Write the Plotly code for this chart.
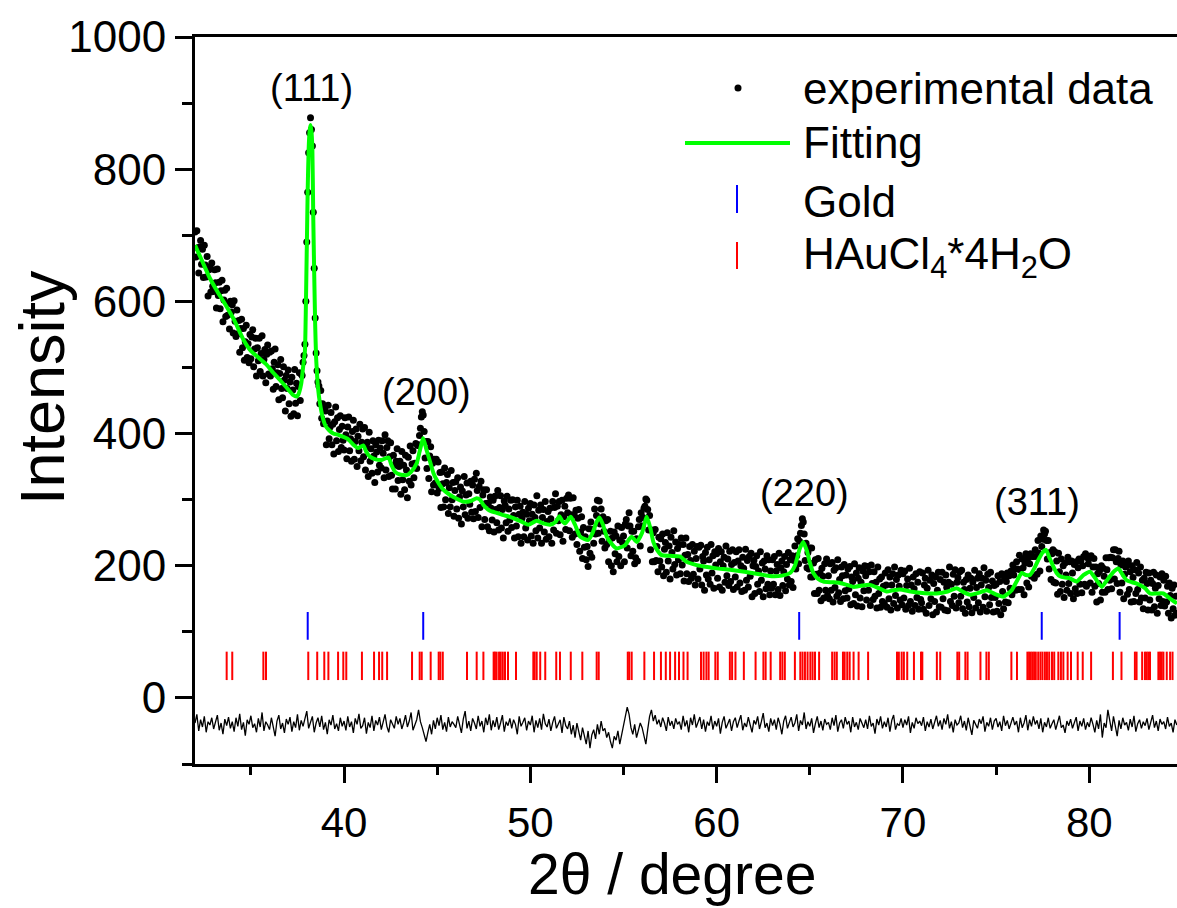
import numpy as np
import plotly.graph_objects as go

# ---------------- data ----------------
X_START = 32.0
X_STEP = 0.05
exp_intensity = [
    705,667,707,681,643,682,692,656,679,636,685,655,637,668,608,648,652,614,658,623,
    615,648,628,590,649,609,629,589,616,632,569,602,617,577,620,579,597,558,600,584,
    595,552,601,570,547,587,551,571,523,559,573,530,559,511,539,564,515,536,507,550,
    513,546,557,501,528,544,487,530,510,544,494,521,548,487,512,527,477,520,534,490,
    523,487,525,498,467,508,528,471,492,504,451,491,512,468,454,501,481,434,488,468,
    496,445,478,426,485,466,430,497,446,476,427,471,492,450,490,488,508,518,535,600,
    690,765,825,855,878,860,835,735,650,575,522,495,478,472,445,465,423,445,415,438,
    434,383,419,443,392,410,432,383,414,369,418,440,389,424,373,406,427,379,411,390,
    375,424,398,362,410,425,374,392,358,403,420,361,388,407,350,396,374,414,359,387,
    407,365,409,345,380,387,335,402,358,377,340,389,366,326,383,372,342,390,352,378,
    348,389,370,333,398,345,379,389,335,365,386,337,316,367,352,316,358,377,329,350,
    358,308,373,330,352,315,367,345,303,364,328,381,322,354,374,333,355,385,347,382,
    383,397,408,425,433,428,403,363,388,347,388,332,366,380,312,355,322,361,325,361,
    310,357,317,341,288,342,324,289,348,300,326,338,279,318,289,344,300,326,275,314,
    327,286,333,272,304,319,263,313,289,335,277,307,325,272,309,293,328,281,322,271,
    331,282,340,314,273,320,288,328,259,307,315,270,294,315,259,295,253,304,287,269,
    299,251,305,285,265,314,254,288,306,257,285,242,298,291,265,305,252,286,269,299,
    258,300,276,242,289,260,299,244,278,290,234,272,281,244,297,257,278,239,287,268,
    294,245,278,234,292,273,253,306,242,284,257,292,234,273,285,251,297,240,267,282,
    244,287,271,234,297,254,288,309,249,290,268,297,247,277,299,237,274,290,255,302,
    280,307,253,302,277,243,303,277,248,284,232,272,285,222,251,274,211,258,228,244,
    209,229,199,256,219,266,213,255,234,286,248,276,299,249,298,263,286,237,274,252,
    227,268,232,270,206,240,252,200,242,191,251,218,245,206,260,214,239,200,258,235,
    245,206,263,270,227,260,280,260,215,252,222,252,203,212,241,207,259,270,230,280,
    260,273,287,290,301,299,285,254,276,224,254,206,250,206,255,208,229,191,243,207,
    241,198,248,185,225,235,190,250,207,230,180,243,220,195,253,202,236,186,226,209,
    232,188,242,201,232,177,216,242,188,217,176,229,208,181,232,187,222,171,211,229,
    180,228,195,231,171,214,207,163,220,186,228,180,209,172,232,189,215,166,221,201,
    218,181,226,168,206,221,163,200,213,175,230,185,210,170,222,176,202,224,164,205,
    183,221,168,207,224,174,200,161,213,196,163,225,178,208,168,214,184,219,153,200,
    208,158,199,215,172,192,161,221,178,204,153,207,195,165,215,172,209,156,192,166,
    209,172,214,156,192,202,164,219,155,197,207,170,191,214,162,202,180,220,171,209,
    176,215,167,208,230,195,215,241,203,237,249,261,271,266,248,208,234,197,220,195,
    227,183,227,183,204,158,209,187,158,211,163,189,147,196,184,151,203,163,210,155,
    185,150,203,163,205,145,193,167,197,154,209,159,179,146,198,185,150,202,162,186,
    151,195,165,199,141,183,176,143,203,156,189,139,181,197,151,175,138,192,162,200,
    185,148,199,163,191,140,201,173,149,191,154,175,136,198,158,180,137,183,146,169,
    143,189,171,137,194,150,183,133,171,188,143,198,155,179,136,186,169,148,193,141,
    188,151,192,134,170,180,140,196,146,171,131,183,165,140,188,152,175,134,191,149,
    144,189,134,171,181,128,166,193,140,178,150,186,126,173,146,183,130,163,190,138,
    179,137,190,150,175,133,186,167,132,175,198,146,172,140,187,154,194,136,175,182,
    144,191,154,193,135,175,164,128,179,145,186,138,166,181,129,175,152,193,136,167,
    181,144,188,130,171,181,137,197,153,178,131,187,167,141,190,152,177,130,170,152,
    172,131,185,143,176,126,188,161,135,182,145,176,189,144,185,166,192,156,201,186,
    195,163,206,195,164,216,194,164,210,197,156,204,218,174,211,168,203,218,184,214,
    214,181,224,214,187,238,219,192,245,229,240,254,248,252,238,210,238,195,220,179,
    218,224,175,221,174,207,157,219,191,161,210,172,200,152,204,186,163,213,173,206,
    158,207,189,150,202,165,206,158,197,210,172,207,159,200,214,172,218,169,212,203,
    211,174,215,160,198,211,169,198,145,188,173,192,148,200,160,196,184,160,212,194,
    164,212,178,213,165,212,224,180,224,206,173,211,222,160,201,174,207,150,187,198,
    200,157,207,164,191,145,200,182,146,194,158,205,164,189,145,198,151,178,135,181,
    151,190,173,133,189,148,178,133,173,190,138,166,186,128,170,150,183,140,188,146,
    178,139,184,145,169,128,174,155,121,166,135,171,125,154,128,
]

fit_theta = [
    32.0, 32.4, 32.8, 33.2, 33.7, 34.1, 34.6, 35.0, 35.4, 35.85, 36.2, 36.56, 36.9, 37.28,
    37.45, 37.55, 37.7, 37.8, 37.9, 37.95, 38.0, 38.05, 38.1, 38.15, 38.2, 38.25, 38.3,
    38.35, 38.4, 38.45, 38.5, 38.55, 38.6, 38.7, 38.85, 39.0, 39.2, 39.42, 39.7, 39.96,
    40.2, 40.5, 40.75, 41.03, 41.2, 41.39, 41.7, 42.02, 42.38, 42.55, 42.74, 43.0, 43.36,
    43.6, 43.9, 44.05, 44.25, 44.4, 44.61, 44.8, 44.97, 45.3, 45.69, 46.0, 46.4, 46.8,
    47.12, 47.3, 47.48, 47.83, 48.19, 48.5, 48.91, 49.09, 49.5, 49.89, 50.34, 50.7, 51.06,
    51.35, 51.56, 51.7, 51.86, 52.17, 52.4, 52.67, 53.11, 53.35, 53.55, 53.71, 53.9, 54.1,
    54.4, 54.64, 55.08, 55.3, 55.44, 55.71, 56.0, 56.25, 56.45, 56.6, 56.8, 57.05, 57.5,
    58.03, 58.39, 58.93, 59.5, 60.0, 60.72, 61.5, 62.3, 63.04, 63.5, 63.94, 64.2, 64.45,
    64.65, 64.85, 65.0, 65.19, 65.45, 65.73, 66.2, 66.62, 67.0, 67.34, 67.8, 68.23, 68.7,
    69.13, 69.5, 69.84, 70.4, 70.92, 71.4, 71.81, 72.4, 72.88, 73.25, 73.6, 74.05, 74.5,
    74.95, 75.39, 75.6, 75.84, 76.1, 76.37, 76.6, 76.82, 77.05, 77.27, 77.5, 77.68, 77.85,
    78.07, 78.25, 78.43, 78.7, 78.97, 79.15, 79.33, 79.7, 80.04, 80.35, 80.67, 80.9, 81.11,
    81.35, 81.56, 81.8, 82.01, 82.3, 82.55, 82.99, 83.26, 83.6, 83.98, 84.35, 84.71,
]
fit_intensity = [
    685, 660, 635, 615, 592, 572, 542, 525, 515, 504, 492, 481, 470, 458,
    456, 459, 475, 500, 525, 590, 680, 770, 830, 858, 867, 858, 830,
    723, 640, 565, 515, 490, 470, 447, 425, 412, 405, 400, 398, 395,
    392, 383, 378, 382, 372, 365, 361, 360, 364, 352, 342, 338, 337,
    342, 355, 372, 393, 378, 358, 340, 330, 316, 307, 302, 297, 298,
    302, 300, 292, 283, 280, 277, 274, 272, 267, 262, 268, 264, 262,
    266, 275, 268, 264, 274, 262, 244, 239, 250, 266, 273, 262, 244,
    232, 226, 231, 240, 244, 236, 250, 274, 256, 236, 224, 216, 215,
    214, 206, 201, 198, 196, 194, 191, 187, 184, 185, 189, 200, 225,
    236, 222, 205, 189, 180, 176, 175, 174, 171, 168, 170, 171, 166,
    161, 163, 164, 161, 159, 158, 158, 161, 166, 160, 156, 159, 163,
    157, 153, 157, 163, 176, 189, 186, 186, 196, 209, 220, 224, 213,
    199, 189, 184, 182, 181, 178, 176, 186, 191, 180, 168, 176, 184,
    192, 196, 186, 178, 175, 173, 166, 158, 158, 158, 150, 143,
]

RES_START = 32.0
RES_STEP = 0.1
residual = [
    -38,-25,-50,-33,-44,-28,-52,-36,-41,-30,
    -47,-35,-26,-49,-38,-55,-32,-42,-29,-46,
    -36,-51,-30,-43,-24,-48,-37,-57,-33,-40,
    -27,-45,-39,-52,-31,-44,-22,-50,-36,-41,
    -48,-30,-42,-58,-35,-26,-47,-38,-53,-32,
    -40,-29,-51,-36,-45,-25,-49,-34,-43,-31,
    -20,-46,-35,-28,-52,-38,-30,-44,-27,-48,
    -37,-55,-33,-41,-26,-47,-39,-50,-30,-43,
    -35,-49,-28,-44,-36,-53,-31,-40,-24,-46,
    -42,-30,-54,-37,-45,-27,-50,-34,-41,-29,
    -48,-36,-25,-43,-52,-33,-39,-46,-28,-40,
    -31,-47,-38,-26,-44,-35,-22,-49,-41,-33,
    -18,-36,-45,-58,-66,-52,-40,-55,-34,-47,
    -30,-42,-26,-48,-37,-51,-29,-44,-36,-40,
    -45,-28,-39,-53,-32,-20,-46,-35,-50,-31,
    -38,-47,-27,-43,-35,-52,-30,-41,-25,-49,
    -34,-44,-29,-48,-38,-26,-51,-36,-42,-31,
    -46,-33,-40,-55,-28,-43,-37,-30,-49,-35,
    -41,-27,-52,-34,-45,-31,-48,-24,-39,-44,
    -32,-50,-37,-28,-46,-40,-33,-53,-29,-42,
    -47,-35,-55,-41,-60,-38,-52,-64,-45,-58,
    -70,-50,-76,-56,-48,-62,-40,-55,-35,-50,
    -46,-60,-52,-66,-76,-58,-64,-50,-70,-56,
    -40,-30,-14,-25,-45,-55,-40,-60,-50,-38,
    -45,-56,-70,-48,-28,-18,-35,-26,-40,-33,
    -44,-30,-38,-50,-29,-42,-35,-47,-31,-40,
    -36,-48,-27,-43,-34,-52,-30,-41,-25,-45,
    -38,-29,-47,-33,-51,-36,-42,-27,-48,-35,
    -43,-31,-54,-37,-28,-46,-39,-32,-50,-36,
    -30,-45,-35,-26,-49,-38,-44,-29,-41,-52,
    -34,-40,-28,-47,-36,-23,-45,-38,-51,-31,
    -42,-33,-48,-30,-40,-55,-35,-27,-46,-37,
    -29,-44,-38,-25,-50,-34,-41,-22,-47,-36,
    -43,-31,-53,-39,-28,-45,-35,-49,-32,-40,
    -37,-48,-30,-42,-26,-51,-38,-33,-46,-29,
    -40,-35,-52,-29,-44,-37,-48,-31,-39,-45,
    -33,-47,-27,-43,-38,-54,-32,-41,-28,-46,
    -36,-44,-30,-51,-34,-26,-48,-39,-42,-31,
    -45,-33,-41,-28,-53,-37,-46,-30,-39,-35,
    -42,-29,-50,-36,-44,-32,-47,-38,-27,-43,
    -34,-48,-31,-40,-25,-46,-36,-52,-33,-41,
    -38,-27,-45,-35,-49,-30,-42,-56,-34,-40,
    -46,-32,-39,-28,-51,-37,-43,-30,-48,-35,
    -31,-44,-36,-50,-27,-42,-34,-47,-38,-29,
    -41,-35,-52,-30,-45,-38,-26,-49,-33,-43,
    -28,-40,-34,-47,-31,-52,-37,-44,-30,-46,
    -39,-33,-48,-36,-27,-45,-41,-53,-35,-42,
    -32,-46,-38,-29,-50,-35,-43,-31,-48,-37,
    -44,-30,-40,-52,-34,-47,-25,-60,-38,-45,
    -18,-36,-50,-28,-43,-58,-34,-47,-30,-41,
    -37,-49,-32,-44,-27,-51,-39,-33,-46,-36,
    -42,-31,-48,-38,-26,-45,-35,-50,-32,-40,
    -36,-47,-29,-43,-38,-52,-33,-41,
]

gold_pos = [38.05, 44.25, 64.43, 77.45, 81.63]
hauc_pos = [
    33.70, 34.00, 35.67, 35.81, 38.08, 38.56, 38.94, 39.16, 39.68, 39.96, 40.12, 40.96,
    41.61, 41.88, 42.05, 42.31, 43.65, 44.06, 44.17, 44.65, 45.08, 45.17, 45.30, 46.60,
    47.12, 47.48, 48.03, 48.10, 48.19, 48.32, 48.41, 48.52, 48.64, 48.80, 49.23, 50.16,
    50.23, 50.34, 50.53, 50.80, 51.39, 51.59, 52.17, 52.79, 53.56, 53.67, 55.23, 55.31,
    55.44, 56.12, 56.64, 57.01, 57.27, 57.50, 57.77, 57.98, 58.22, 58.44, 59.16, 59.30,
    59.45, 59.57, 59.93, 60.06, 60.71, 60.83, 61.01, 61.46, 62.09, 62.51, 62.63, 62.90,
    63.41, 63.53, 63.66, 64.20, 64.49, 64.61, 64.74, 64.88, 65.03, 65.15, 65.28, 65.50,
    66.20, 66.33, 66.45, 66.78, 66.87, 67.01, 67.14, 67.35, 67.62, 68.13, 69.68, 69.78,
    69.93, 70.05, 70.23, 70.59, 70.97, 71.04, 71.82, 72.00, 72.92, 73.02, 73.35, 73.47,
    74.16, 74.48, 74.61, 75.82, 76.12, 76.68, 76.77, 76.86, 76.95, 77.04, 77.13, 77.26,
    77.38, 77.49, 77.62, 77.73, 77.85, 78.00, 78.12, 78.34, 78.48, 78.61, 78.84, 79.02,
    79.38, 79.65, 80.10, 81.27, 81.73, 82.45, 82.54, 82.84, 82.99, 83.08, 83.17, 83.26,
    83.71, 83.80, 83.89, 83.98, 84.16, 84.34, 84.47,
]

peak_labels = ["(111)", "(200)", "(220)", "(311)"]
peak_label_theta = [38.26, 44.40, 64.74, 77.20]
peak_label_intensity = [923, 463, 310, 297]

legend_labels = ["experimental data", "Fitting", "Gold",
                 "HAuCl<sub>4</sub>*4H<sub>2</sub>O"]

# ---------------- layout constants ----------------
W, H = 1177, 908
L, R, T, B = 195, 0, 37, 144
PW, PH = W - L - R, H - T - B
GOLD_LEVEL = (88, 130)     # vertical extent of reference ticks (data units)
HAUC_LEVEL = (27, 70)
FONT = "Liberation Sans, Arial, sans-serif"


def px(xp):
    return (xp - L) / PW


def py(yp):
    return (H - B - yp) / PH


def stick_xy(positions, level):
    xs, ys = [], []
    for p in positions:
        xs += [p, p, None]
        ys += [level[0], level[1], None]
    return xs, ys


exp_theta = X_START + X_STEP * np.arange(len(exp_intensity))
res_theta = RES_START + RES_STEP * np.arange(len(residual))

fig = go.Figure()
fig.add_trace(go.Scatter(x=exp_theta, y=exp_intensity, mode="markers",
                         marker=dict(color="black", size=7, line=dict(width=0)),
                         name="experimental data"))
fig.add_trace(go.Scatter(x=fit_theta, y=fit_intensity, mode="lines",
                         line=dict(color="#00ff00", width=4, shape="spline", smoothing=0.5),
                         name="Fitting"))
gx, gy = stick_xy(gold_pos, GOLD_LEVEL)
fig.add_trace(go.Scatter(x=gx, y=gy, mode="lines", line=dict(color="#0000ff", width=2),
                         name="Gold"))
hx, hy = stick_xy(hauc_pos, HAUC_LEVEL)
fig.add_trace(go.Scatter(x=hx, y=hy, mode="lines", line=dict(color="#ff0000", width=2),
                         name="HAuCl4*4H2O"))
fig.add_trace(go.Scatter(x=res_theta, y=residual, mode="lines",
                         line=dict(color="black", width=1.3), name="difference"))

annotations = []
for lab, xt, yt in zip(peak_labels, peak_label_theta, peak_label_intensity):
    annotations.append(dict(x=xt, y=yt, xref="x", yref="y", text=lab, showarrow=False,
                            xanchor="center", yanchor="middle",
                            font=dict(size=38, family=FONT, color="black")))

# axis titles
annotations.append(dict(x=px(672), y=py(874), xref="paper", yref="paper",
                        text="2θ / degree", showarrow=False, xanchor="center",
                        yanchor="middle", font=dict(size=57, family=FONT, color="black")))
annotations.append(dict(x=px(42), y=py(388), xref="paper", yref="paper",
                        text="Intensity", showarrow=False, textangle=-90,
                        xanchor="center", yanchor="middle",
                        font=dict(size=63, family=FONT, color="black")))

# manual legend
legend_rows = [88, 143, 201, 257]
for lab, yr in zip(legend_labels, legend_rows):
    annotations.append(dict(x=px(801), y=py(yr), xref="paper", yref="paper", text=lab,
                            showarrow=False, xanchor="left", yanchor="middle",
                            font=dict(size=44, family=FONT, color="black")))

shapes = [
    dict(type="circle", xref="paper", yref="paper", x0=px(734.5), x1=px(741.5),
         y0=py(91.5), y1=py(84.5), fillcolor="black", line=dict(width=0)),
    dict(type="line", xref="paper", yref="paper", x0=px(685), x1=px(790),
         y0=py(143), y1=py(143), line=dict(color="#00ff00", width=4)),
    dict(type="line", xref="paper", yref="paper", x0=px(737), x1=px(737),
         y0=py(185), y1=py(213), line=dict(color="#0000ff", width=2)),
    dict(type="line", xref="paper", yref="paper", x0=px(737), x1=px(737),
         y0=py(242), y1=py(269), line=dict(color="#ff0000", width=2)),
]

fig.update_layout(
    width=W, height=H,
    margin=dict(l=L, r=R, t=T, b=B, pad=0),
    plot_bgcolor="white", paper_bgcolor="white",
    showlegend=False,
    font=dict(family=FONT, color="black"),
    annotations=annotations, shapes=shapes,
)
fig.update_xaxes(
    range=[32, 84.71], showline=True, linewidth=3, linecolor="black", mirror=True,
    ticks="outside", ticklen=16, tickwidth=3, tickcolor="black",
    tick0=0, dtick=10, tickfont=dict(size=42, family=FONT, color="black"),
    ticklabelstandoff=4,
    showgrid=False, zeroline=False,
    minor=dict(ticks="outside", tick0=0, dtick=5, ticklen=8, tickwidth=3,
               tickcolor="black", showgrid=False),
)
fig.update_yaxes(
    range=[-100, 1000], showline=True, linewidth=3, linecolor="black", mirror=False,
    ticks="outside", ticklen=17, tickwidth=3, tickcolor="black",
    tick0=0, dtick=200, tickfont=dict(size=44, family=FONT, color="black"),
    showgrid=False, zeroline=False,
    minor=dict(ticks="outside", tick0=0, dtick=100, ticklen=10, tickwidth=3,
               tickcolor="black", showgrid=False),
)

fig.write_html("out.html")
